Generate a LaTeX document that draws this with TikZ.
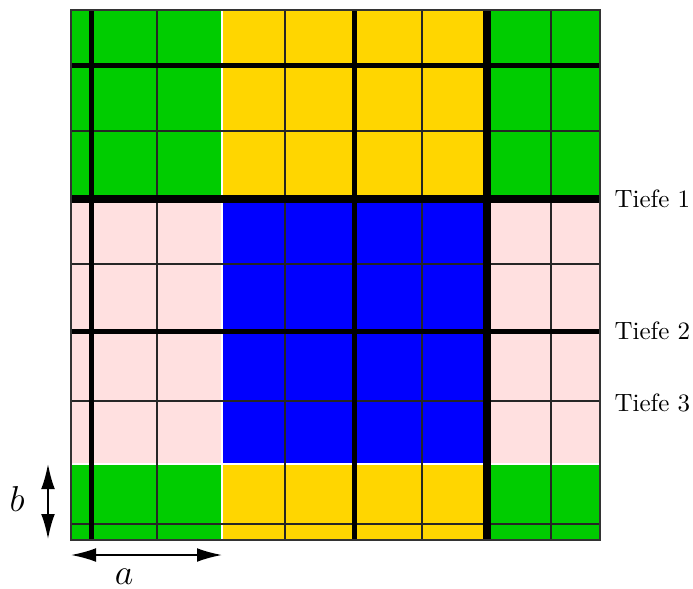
\documentclass[tikz,border=0pt]{standalone}
\usetikzlibrary{arrows.meta}
\definecolor{cgreen}{RGB}{0,204,0}
\definecolor{cyellow}{RGB}{255,214,0}
\definecolor{cblue}{RGB}{0,0,255}
\definecolor{cpink}{RGB}{255,224,224}
\begin{document}
\begin{tikzpicture}[x=0.4pt,y=-0.4pt,
  thinline/.style={line width=0.6pt, black!85},
  thickline/.style={line width=2pt, black},
  thickerline/.style={line width=3pt, black},
  sepline/.style={line width=0.6pt, white},
  border/.style={line width=0.5pt, black!80},
  depth/.style={anchor=west, inner sep=0pt},
  dimarrow/.style={{Latex[length=10pt,width=5.5pt]}-{Latex[length=10pt,width=5.5pt]}, line width=0.7pt},
  dimlabel/.style={inner sep=0pt, font=\Large}]
\useasboundingbox (0,0) rectangle (693,588);
% colour regions
\fill[cgreen]  (71,10)  rectangle (222,199);
\fill[cyellow] (222,10) rectangle (487,199);
\fill[cgreen]  (487,10) rectangle (600,199);
\fill[cpink]   (71,199) rectangle (222,464);
\fill[cblue]   (222,199) rectangle (487,464);
\fill[cpink]   (487,199) rectangle (600,464);
\fill[cgreen]  (71,464) rectangle (222,540);
\fill[cyellow] (222,464) rectangle (487,540);
\fill[cgreen]  (487,464) rectangle (600,540);
% white separators between colour regions
\draw[sepline] (222,10) -- (222,540);
\draw[sepline] (71,464) -- (600,464);
% thin grid lines
\foreach \x in {157,285,422,551} \draw[thinline] (\x,10) -- (\x,540);
\foreach \y in {131,264,401,524} \draw[thinline] (71,\y) -- (600,\y);
% thick (depth) lines
\draw[thickline] (91.5,10) -- (91.5,540);
\draw[thickline] (354.5,10) -- (354.5,540);
\draw[thickerline] (487,10) -- (487,540);
\draw[thickline] (71,65.5) -- (600,65.5);
\draw[thickerline] (71,199) -- (600,199);
\draw[thickline] (71,331) -- (600,331);
% border
\draw[border] (71,10) rectangle (600,540);
% depth labels
\node[depth] (t1) at (614,199) {Tiefe 1};
\node[depth] (t2) at (614,331) {Tiefe 2};
\node[depth] (t3) at (614,403) {Tiefe 3};
% dimension arrows
\coordinate (a1) at (71,555);
\coordinate (a2) at (222,555);
\draw[dimarrow] (a1) -- (a2);
\node[dimlabel] (la) at (124,577) {$a$};
\coordinate (b1) at (48,464);
\coordinate (b2) at (48,539);
\draw[dimarrow] (b1) -- (b2);
\node[dimlabel] (lb) at (17,499) {$b$};
\end{tikzpicture}
\end{document}
